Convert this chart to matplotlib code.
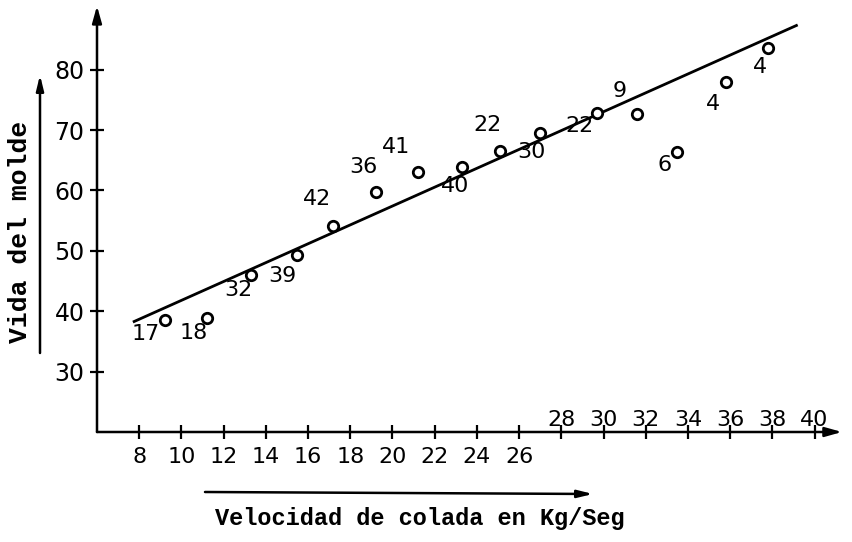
import matplotlib
matplotlib.use("Agg")
import matplotlib.pyplot as plt

# Mould life vs. pouring speed, with number of samples per point
speed = [9.2, 11.2, 13.3, 15.5, 17.2, 19.2, 21.2, 23.3, 25.1, 27.0, 29.7, 31.6, 33.5, 35.8, 37.8]
life = [38.6, 38.8, 46.0, 49.3, 54.1, 59.8, 63.1, 63.9, 66.5, 69.5, 72.8, 72.6, 66.4, 77.9, 83.5]
samples = [17, 18, 32, 39, 42, 36, 41, 40, 22, 30, 22, 9, 6, 4, 4]

# fitted trend line (end points)
fit_x = [7.7, 39.2]
fit_y = [38.2, 87.4]

x_ticks = [8, 10, 12, 14, 16, 18, 20, 22, 24, 26, 28, 30, 32, 34, 36, 38, 40]
x_ticks_low = [8, 10, 12, 14, 16, 18, 20, 22, 24, 26]
y_ticks = [30, 40, 50, 60, 70, 80]

x_title = "Velocidad de colada en Kg/Seg"
y_title = "Vida del molde"

# label placement around each circle (pixels)
label_offsets = [(-19, -14), (-13, -15), (-13, -15), (-15, -21), (-16, 27),
                 (-12, 25), (-22, 25), (-7, -19), (-13, 26), (-9, -19),
                 (-18, -13), (-18, 23), (-13, -13), (-13, -22), (-8, -19)]

W, H = 853, 542
fig = plt.figure(figsize=(W / 100, H / 100), dpi=100)
ax = fig.add_axes([97 / W, 1 - 432 / H, 745 / W, 424 / H])
ax.set_xlim(6, 41.3)
ax.set_ylim(20, 90.2)

for s in ax.spines.values():
    s.set_visible(False)

ink = "black"
digits = "DejaVu Sans"
mono = ["Liberation Mono", "DejaVu Sans Mono"]

# axes drawn as arrows
arrow_kw = dict(arrowstyle="-|>,head_length=1.0,head_width=0.28", color=ink, lw=1.8,
                shrinkA=0, shrinkB=0)
ax.annotate("", xy=(0, 1.005), xytext=(0, 0), xycoords="axes fraction",
            textcoords="axes fraction", arrowprops=arrow_kw, annotation_clip=False)
ax.annotate("", xy=(1, 0), xytext=(0, 0), xycoords="axes fraction",
            textcoords="axes fraction", arrowprops=arrow_kw, annotation_clip=False)

ax.set_yticks(y_ticks)
ax.set_yticklabels([str(t) for t in y_ticks], fontsize=17, family=digits)
ax.set_xticks(x_ticks)
ax.set_xticklabels([str(t) if t in x_ticks_low else "" for t in x_ticks],
                   fontsize=16, family=digits)
ax.tick_params(axis="both", direction="inout", length=10, width=1.6, color=ink)
ax.tick_params(axis="y", pad=4)
ax.tick_params(axis="x", pad=6)

# upper run of x tick labels sits above the axis
for t in x_ticks:
    if t not in x_ticks_low:
        ax.annotate(str(t), xy=(t, 20), xytext=(0, 6), textcoords="offset pixels",
                    ha="center", va="baseline", fontsize=16, family=digits,
                    annotation_clip=False)

# trend line and data points
ax.plot(fit_x, fit_y, color=ink, lw=2.0, solid_capstyle="butt")
ax.plot(speed, life, linestyle="none", marker="o", ms=7.5, mfc="white",
        mec=ink, mew=2.0, zorder=3)

for xv, yv, n, (dx, dy) in zip(speed, life, samples, label_offsets):
    ax.annotate(str(n), xy=(xv, yv), xytext=(dx, dy), textcoords="offset pixels",
                ha="center", va="center", fontsize=16, family=digits)

# axis titles with their direction arrows
fig.text(20 / W, 1 - 232 / H, y_title, rotation=90, ha="center", va="center",
         fontsize=19, family=mono, weight="bold")
fig.text(420 / W, 1 - 518 / H, x_title, ha="center", va="center",
         fontsize=17, family=mono, weight="bold")

title_arrow = dict(arrowstyle="-|>,head_length=0.9,head_width=0.22", color=ink,
                   lw=1.8, shrinkA=0, shrinkB=0)
ax.annotate("", xy=(40 / W, 1 - 75 / H), xytext=(40 / W, 1 - 353 / H),
            xycoords="figure fraction", textcoords="figure fraction",
            arrowprops=title_arrow, annotation_clip=False)
ax.annotate("", xy=(593 / W, 1 - 494 / H), xytext=(205 / W, 1 - 492 / H),
            xycoords="figure fraction", textcoords="figure fraction",
            arrowprops=title_arrow, annotation_clip=False)

fig.savefig("out.png", dpi=100, facecolor="white")
